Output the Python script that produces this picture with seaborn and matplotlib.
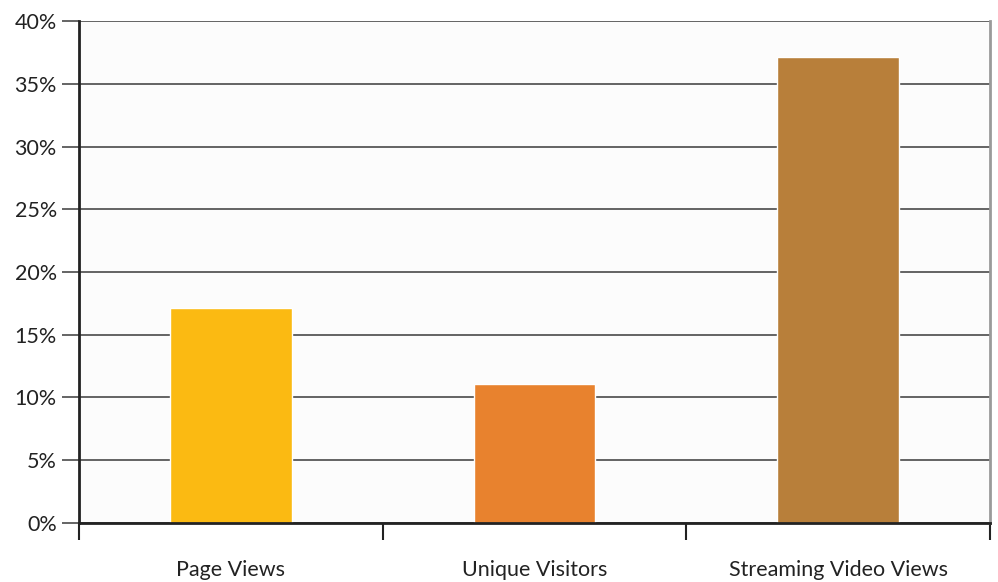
import matplotlib
matplotlib.use("Agg")

import matplotlib.pyplot as plt
import seaborn as sns
import pandas as pd
from matplotlib.ticker import FixedLocator, PercentFormatter

# Chart data
categories = ["Page Views", "Unique Visitors", "Streaming Video Views"]
values = [17.1, 11.1, 37.1]
bar_colors = ["#FBBA12", "#E8822E", "#B87F3A"]

y_ticks = [0, 5, 10, 15, 20, 25, 30, 35, 40]

sns.set_theme(style="white")
plt.rcParams["font.family"] = ["Lato", "DejaVu Sans"]

df = pd.DataFrame({"metric": categories, "share": values})

fig = plt.figure(figsize=(9.98, 5.82), dpi=100)
fig.patch.set_facecolor("white")
ax = fig.add_axes([0.0792, 0.1014, 0.9128, 0.8625])
ax.set_facecolor("#FCFCFC")

sns.barplot(data=df, x="metric", y="share", hue="metric", palette=bar_colors,
            width=0.4, legend=False, ax=ax, zorder=3, saturation=1)

ax.set_ylim(0, 40)
ax.set_xlim(-0.5, 2.5)
ax.set_yticks(y_ticks)
ax.yaxis.set_major_formatter(PercentFormatter(decimals=0))
ax.grid(axis="y", color="#3a3a3a", linewidth=1.1, zorder=1)
ax.grid(axis="x", visible=False)

# category labels centred, ticks at category boundaries
ax.xaxis.set_minor_locator(FixedLocator([-0.5, 0.5, 1.5, 2.5]))
ax.tick_params(axis="x", which="major", length=0, pad=27, labelsize=15.5, labelcolor="#222222")
ax.tick_params(axis="x", which="minor", length=12, width=1.5, color="#222222", direction="out", bottom=True)
ax.tick_params(axis="y", length=12, width=1.1, color="#3a3a3a", direction="out", left=True,
               labelsize=15.5, labelcolor="#222222", pad=4)

ax.set_xlabel("")
ax.set_ylabel("")

ax.spines["top"].set_visible(False)
ax.spines["right"].set_color("#9a9a9a")
ax.spines["right"].set_linewidth(2)
for side in ["left", "bottom"]:
    ax.spines[side].set_color("#222222")
    ax.spines[side].set_linewidth(2)
    ax.spines[side].set_zorder(4)

plt.savefig("out.png", dpi=100)
plt.close()
